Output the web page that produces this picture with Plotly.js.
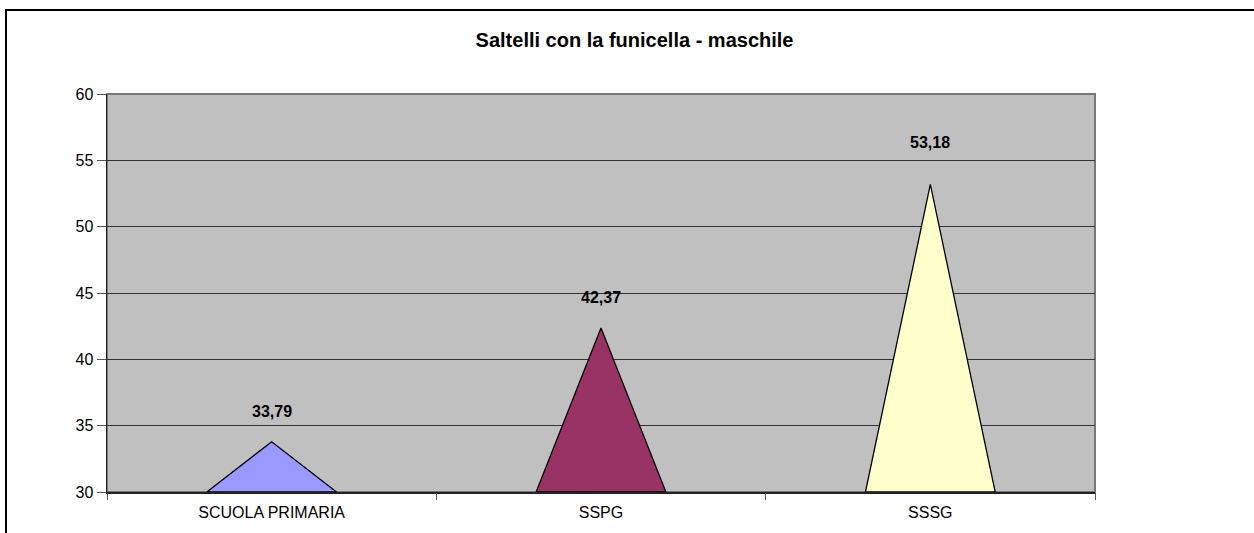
<!DOCTYPE html>
<html>
<head>
<meta charset="utf-8">
<script src="https://cdn.plot.ly/plotly-3.0.1.min.js"></script>
<style>
html, body { margin: 0; padding: 0; background: #fff; overflow: hidden; }
#frame { position: absolute; left: 5px; top: 9px; width: 1400px; height: 700px; border: 2px solid #000; box-sizing: border-box; pointer-events: none; }
#chart { position: absolute; left: 0; top: 0; width: 1254px; height: 533px; }
</style>
</head>
<body>
<div id="chart"></div>
<div id="frame"></div>
<script>
const categories = ['SCUOLA PRIMARIA', 'SSPG', 'SSSG'];
const values = [33.79, 42.37, 53.18];
const labels = ['33,79', '42,37', '53,18'];
const colors = ['#9999ff', '#993366', '#ffffcc'];
const yTicks = [30, 35, 40, 45, 50, 55, 60];

const halfWidth = 0.197;
const baseY = 30;
const labelShift = [30, 30, 42];

const traces = categories.map((c, i) => ({
  type: 'scatter',
  mode: 'lines',
  x: [i - halfWidth, i, i + halfWidth, i - halfWidth],
  y: [baseY, values[i], baseY, baseY],
  fill: 'toself',
  fillcolor: colors[i],
  line: { color: '#000', width: 1.3 },
  hoverinfo: 'skip',
  showlegend: false,
  xaxis: 'x',
  yaxis: 'y'
}));

// invisible trace to activate the boundary tick axis
traces.push({
  type: 'scatter', mode: 'markers', x: [0], y: [baseY],
  marker: { opacity: 0 }, xaxis: 'x2', yaxis: 'y', showlegend: false, hoverinfo: 'skip'
});

const annotations = categories.map((c, i) => ({
  x: i, y: values[i], xref: 'x', yref: 'y',
  text: labels[i], showarrow: false,
  yanchor: 'middle', yshift: labelShift[i],
  font: { family: 'Liberation Sans, Arial, sans-serif', size: 16, color: '#000', weight: 'bold' }
}));

const layout = {
  width: 1254, height: 533,
  margin: { l: 107, r: 159, t: 94, b: 41 },
  paper_bgcolor: 'rgba(0,0,0,0)',
  plot_bgcolor: '#c0c0c0',
  font: { family: 'Liberation Sans, Arial, sans-serif', size: 16, color: '#000' },
  title: {
    text: '<b>Saltelli con la funicella - maschile</b>',
    font: { family: 'Liberation Sans, Arial, sans-serif', size: 20, color: '#000' },
    xref: 'container', yref: 'container', x: 0.506, y: 0.925, xanchor: 'center', yanchor: 'middle'
  },
  xaxis: {
    range: [-0.5, 2.5],
    tickvals: [0, 1, 2],
    ticktext: categories,
    ticks: 'outside', ticklen: 5, tickcolor: 'rgba(0,0,0,0)',
    showgrid: false, zeroline: false,
    showline: true, linecolor: '#222', linewidth: 1.5,
    fixedrange: true
  },
  xaxis2: {
    overlaying: 'x', range: [-0.5, 2.5],
    tickvals: [-0.5, 0.5, 1.5, 2.5],
    showticklabels: false,
    ticks: 'outside', ticklen: 7, tickcolor: '#555', tickwidth: 1,
    showgrid: false, zeroline: false, showline: false,
    side: 'bottom'
  },
  yaxis: {
    range: [30, 60],
    tickvals: yTicks,
    ticks: 'outside', ticklen: 9, tickcolor: '#555', tickwidth: 1,
    showgrid: true, gridcolor: '#333', gridwidth: 1,
    zeroline: false,
    showline: true, linecolor: '#222', linewidth: 1.5,
    fixedrange: true
  },
  shapes: [{
    type: 'rect', xref: 'paper', yref: 'paper', x0: 0, x1: 1, y0: 0, y1: 1,
    line: { color: '#777', width: 2 }, layer: 'below'
  }],
  annotations: annotations
};

Plotly.newPlot('chart', traces, layout, { displayModeBar: false, staticPlot: true });
</script>
</body>
</html>
